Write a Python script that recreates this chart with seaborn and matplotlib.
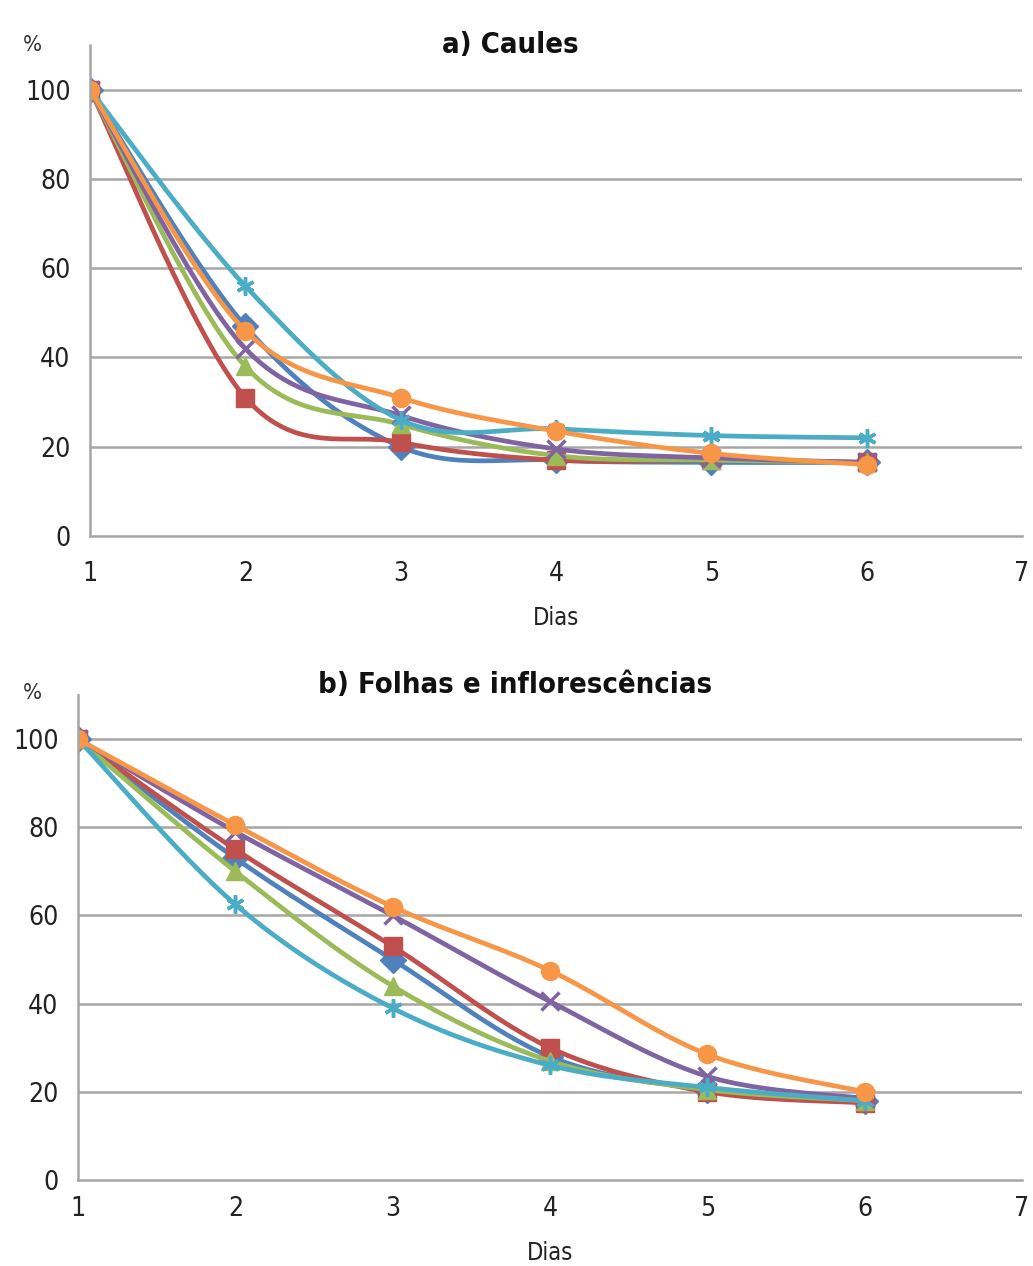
import numpy as np
import pandas as pd
import matplotlib
matplotlib.use("Agg")
import matplotlib.pyplot as plt
import seaborn as sns

# Dados
dias = [1, 2, 3, 4, 5, 6]
series = ['S1', 'S2', 'S3', 'S4', 'S5', 'S6']
cores = ['#4F81BD', '#C0504D', '#9BBB59', '#8064A2', '#4BACC6', '#F79646']
marcadores = ['D', 's', '^', 'x', (6, 2, 0), 'o']

caules = {
    'S1': [100, 47, 20, 17, 16.5, 16.5],
    'S2': [100, 31, 21, 17, 17, 16.5],
    'S3': [100, 38, 25, 18, 17, 16.5],
    'S4': [100, 42, 27, 19.5, 17.5, 16.5],
    'S5': [100, 56, 26, 24, 22.5, 22],
    'S6': [100, 46, 31, 23.5, 18.5, 16],
}
folhas = {
    'S1': [100, 73, 50, 28, 20.5, 18],
    'S2': [100, 75, 53, 30, 20, 17.5],
    'S3': [100, 70, 44, 27, 20.5, 18],
    'S4': [100, 79, 60, 40.5, 23.5, 18.5],
    'S5': [100, 62.5, 39, 26, 21, 18],
    'S6': [100, 80.5, 62, 47.5, 28.5, 20],
}
yticks = [0, 20, 40, 60, 80, 100]
xticks = [1, 2, 3, 4, 5, 6, 7]


def suavizar(x, y, n=30):
    """Curva suave tipo Excel (Catmull-Rom) passando pelos pontos."""
    x = np.asarray(x, float)
    y = np.asarray(y, float)
    px = np.concatenate([[x[0]], x, [x[-1]]])
    py = np.concatenate([[y[0]], y, [y[-1]]])
    xs, ys = [], []
    t = np.linspace(0, 1, n)
    for i in range(1, len(px) - 2):
        for p, out in ((px, xs), (py, ys)):
            p0, p1, p2, p3 = p[i - 1], p[i], p[i + 1], p[i + 2]
            out.extend(0.5 * ((2 * p1) + (-p0 + p2) * t
                              + (2 * p0 - 5 * p1 + 4 * p2 - p3) * t ** 2
                              + (-p0 + 3 * p1 - 3 * p2 + p3) * t ** 3))
    return np.array(xs), np.array(ys)


sns.set_style("white")
plt.rcParams['font.family'] = ['DejaVu Sans']
plt.rcParams['font.stretch'] = 'condensed'

fig = plt.figure(figsize=(10.33, 12.66), dpi=100)
ax1 = fig.add_axes([0.0871, 0.5766, 0.9023, 0.3879])
ax2 = fig.add_axes([0.0755, 0.0679, 0.9139, 0.3831])

for ax, dados, xpad in ((ax1, caules, 12), (ax2, folhas, 5.5)):
    for s, cor, m in zip(series, cores, marcadores):
        sx, sy = suavizar(dias, dados[s])
        df = pd.DataFrame({'x': sx, 'y': sy})
        sns.lineplot(data=df, x='x', y='y', sort=False, estimator=None,
                     color=cor, lw=3.4, ax=ax)
        ax.plot(dias, dados[s], linestyle='none', marker=m, color=cor,
                markersize=13, markeredgewidth=2.5 if m in ('x', (6, 2, 0)) else 1)
    ax.set_xlim(1, 7)
    ax.set_ylim(0, 110)
    ax.set_xticks(xticks)
    ax.set_yticks(yticks)
    for v in yticks[1:]:
        ax.axhline(v, color='#A6A6A6', lw=1.8, zorder=0)
    for sp in ['top', 'right']:
        ax.spines[sp].set_visible(False)
    for sp in ['left', 'bottom']:
        ax.spines[sp].set_color('#A6A6A6')
        ax.spines[sp].set_linewidth(1.8)
    ax.tick_params(axis='both', direction='out', length=6, width=1.5,
                   color='#A6A6A6', labelsize=19, labelcolor='#222222', pad=8)
    ax.tick_params(axis='x', pad=xpad)
    ax.set_ylabel('')
    ax.set_xlabel('Dias', fontsize=17, color='#222222', labelpad=14)

fig.text(32 / 1033, 1 - 45 / 1266, '%', fontsize=16, ha='center', va='center', color='#333333')
fig.text(32 / 1033, 1 - 693 / 1266, '%', fontsize=16, ha='center', va='center', color='#333333')
fig.text(510 / 1033, 1 - 45 / 1266, 'a) Caules', fontsize=21, fontweight='bold',
         ha='center', va='center', color='#111111')
fig.text(515 / 1033, 1 - 685 / 1266, 'b) Folhas e inflorescências', fontsize=21,
         fontweight='bold', ha='center', va='center', color='#111111')

plt.savefig('out.png', dpi=100)
plt.close()
